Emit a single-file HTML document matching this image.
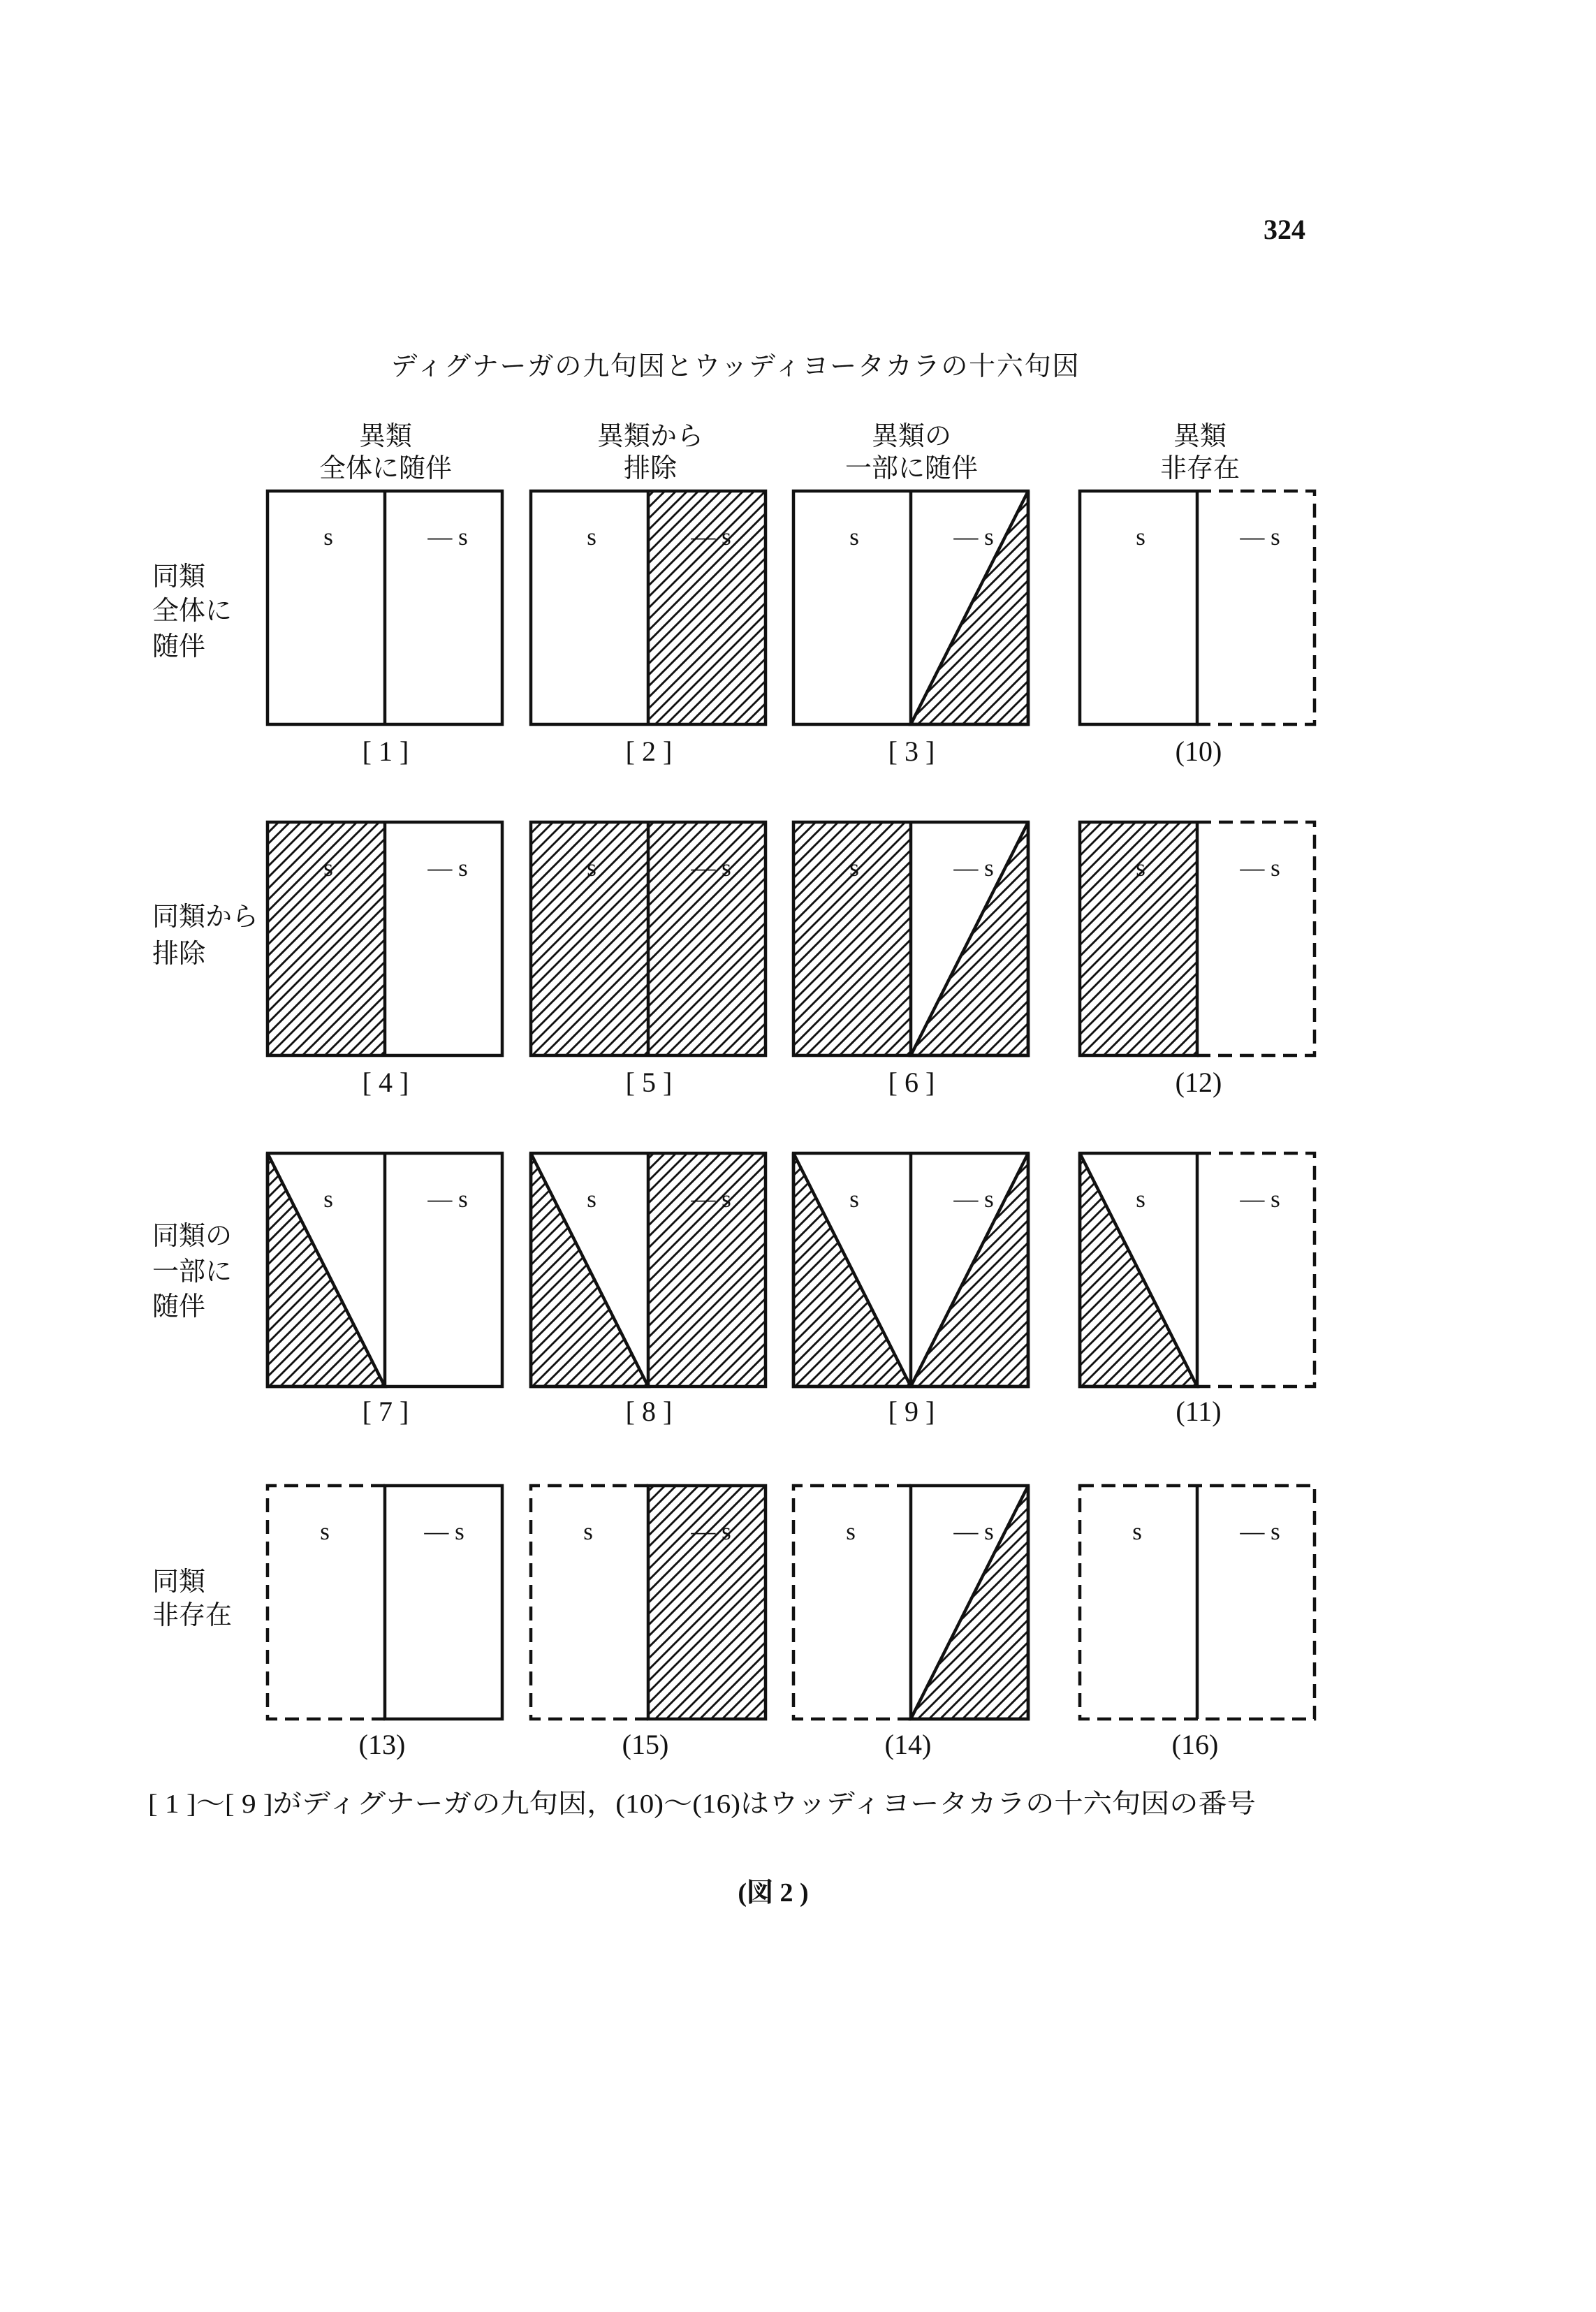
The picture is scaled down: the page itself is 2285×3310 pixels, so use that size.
<!DOCTYPE html>
<html><head><meta charset="utf-8"><style>
html,body{margin:0;padding:0;background:#fff;}
svg{display:block;}
text{font-family:"Liberation Serif","Noto Serif CJK SC",serif;fill:#111;}
</style></head><body>
<svg width="2285" height="3310" viewBox="0 0 2285 3310" xmlns="http://www.w3.org/2000/svg">
<defs>
<pattern id="h" patternUnits="userSpaceOnUse" width="16" height="16">
<path d="M-2,18 L18,-2 M-4,4 L4,-4 M12,20 L20,12" stroke="#111" stroke-width="2.9"/>
</pattern>
</defs>
<rect width="2285" height="3310" fill="#fff"/>
<text x="1839" y="342" font-size="40" font-weight="bold" text-anchor="middle">324</text>
<text x="1052" y="537" font-size="38" text-anchor="middle" textLength="985" lengthAdjust="spacing">ディグナーガの九句因とウッディヨータカラの十六句因</text>

<g font-size="38" text-anchor="middle">
<text x="552" y="637">異類</text><text x="552" y="683">全体に随伴</text>
<text x="931" y="637">異類から</text><text x="931" y="683">排除</text>
<text x="1305" y="637">異類の</text><text x="1305" y="683">一部に随伴</text>
<text x="1718" y="637">異類</text><text x="1718" y="683">非存在</text>
</g>
<g font-size="38">
<text x="218" y="838">同類</text><text x="218" y="887">全体に</text><text x="218" y="938">随伴</text>
<text x="218" y="1325">同類から</text><text x="218" y="1378">排除</text>
<text x="218" y="1782">同類の</text><text x="218" y="1833">一部に</text><text x="218" y="1883">随伴</text>
<text x="218" y="2277">同類</text><text x="218" y="2325">非存在</text>
</g>

<g fill="none" stroke="#111" stroke-width="4.5">
<g transform="translate(383,703)">
<rect x="0" y="0" width="336" height="334"/><line x1="168" y1="0" x2="168" y2="334"/>
</g>
<g transform="translate(760,703)">
<rect x="168" y="0" width="168" height="334" fill="url(#h)" stroke="none"/>
<rect x="0" y="0" width="336" height="334"/><line x1="168" y1="0" x2="168" y2="334"/>
</g>
<g transform="translate(1136,703)">
<polygon points="168,334 336,0 336,334" fill="url(#h)"/>
<rect x="0" y="0" width="336" height="334"/><line x1="168" y1="0" x2="168" y2="334"/>
</g>
<g transform="translate(1546,703)">
<path d="M168,0 H0 V334 H168 V0"/>
<path d="M168,0 H336 V334 H168" stroke-dasharray="20 11"/>
</g>
<g transform="translate(383,1177)">
<rect x="0" y="0" width="168" height="334" fill="url(#h)" stroke="none"/>
<rect x="0" y="0" width="336" height="334"/><line x1="168" y1="0" x2="168" y2="334"/>
</g>
<g transform="translate(760,1177)">
<rect x="0" y="0" width="336" height="334" fill="url(#h)" stroke="none"/>
<rect x="0" y="0" width="336" height="334"/><line x1="168" y1="0" x2="168" y2="334"/>
</g>
<g transform="translate(1136,1177)">
<rect x="0" y="0" width="168" height="334" fill="url(#h)" stroke="none"/>
<polygon points="168,334 336,0 336,334" fill="url(#h)"/>
<rect x="0" y="0" width="336" height="334"/><line x1="168" y1="0" x2="168" y2="334"/>
</g>
<g transform="translate(1546,1177)">
<rect x="0" y="0" width="168" height="334" fill="url(#h)" stroke="none"/>
<path d="M168,0 H0 V334 H168 V0"/>
<path d="M168,0 H336 V334 H168" stroke-dasharray="20 11"/>
</g>
<g transform="translate(383,1651)">
<polygon points="0,0 0,334 168,334" fill="url(#h)"/>
<rect x="0" y="0" width="336" height="334"/><line x1="168" y1="0" x2="168" y2="334"/>
</g>
<g transform="translate(760,1651)">
<polygon points="0,0 0,334 168,334" fill="url(#h)"/>
<rect x="168" y="0" width="168" height="334" fill="url(#h)" stroke="none"/>
<rect x="0" y="0" width="336" height="334"/><line x1="168" y1="0" x2="168" y2="334"/>
</g>
<g transform="translate(1136,1651)">
<polygon points="0,0 0,334 168,334" fill="url(#h)"/>
<polygon points="168,334 336,0 336,334" fill="url(#h)"/>
<rect x="0" y="0" width="336" height="334"/><line x1="168" y1="0" x2="168" y2="334"/>
</g>
<g transform="translate(1546,1651)">
<polygon points="0,0 0,334 168,334" fill="url(#h)"/>
<path d="M168,0 H0 V334 H168 V0"/>
<path d="M168,0 H336 V334 H168" stroke-dasharray="20 11"/>
</g>
<g transform="translate(383,2127)">
<path d="M168,0 H0 V334 H168" stroke-dasharray="20 11"/>
<rect x="168" y="0" width="168" height="334"/>
</g>
<g transform="translate(760,2127)">
<rect x="168" y="0" width="168" height="334" fill="url(#h)" stroke="none"/>
<path d="M168,0 H0 V334 H168" stroke-dasharray="20 11"/>
<rect x="168" y="0" width="168" height="334"/>
</g>
<g transform="translate(1136,2127)">
<polygon points="168,334 336,0 336,334" fill="url(#h)"/>
<path d="M168,0 H0 V334 H168" stroke-dasharray="20 11"/>
<rect x="168" y="0" width="168" height="334"/>
</g>
<g transform="translate(1546,2127)">
<rect x="0" y="0" width="336" height="334" stroke-dasharray="20 11"/>
<line x1="168" y1="0" x2="168" y2="334"/>
</g>
</g>

<g font-size="35" text-anchor="middle">
<text x="470" y="780">s</text><text x="641" y="780">— s</text>
<text x="847" y="780">s</text><text x="1018" y="780">— s</text>
<text x="1223" y="780">s</text><text x="1394" y="780">— s</text>
<text x="1633" y="780">s</text><text x="1804" y="780">— s</text>

<text x="470" y="1254">s</text><text x="641" y="1254">— s</text>
<text x="847" y="1254">s</text><text x="1018" y="1254">— s</text>
<text x="1223" y="1254">s</text><text x="1394" y="1254">— s</text>
<text x="1633" y="1254">s</text><text x="1804" y="1254">— s</text>

<text x="470" y="1728">s</text><text x="641" y="1728">— s</text>
<text x="847" y="1728">s</text><text x="1018" y="1728">— s</text>
<text x="1223" y="1728">s</text><text x="1394" y="1728">— s</text>
<text x="1633" y="1728">s</text><text x="1804" y="1728">— s</text>

<text x="465" y="2204">s</text><text x="636" y="2204">— s</text>
<text x="842" y="2204">s</text><text x="1018" y="2204">— s</text>
<text x="1218" y="2204">s</text><text x="1394" y="2204">— s</text>
<text x="1628" y="2204">s</text><text x="1804" y="2204">— s</text>
</g>

<g font-size="40" text-anchor="middle">
<text x="552" y="1089">[ 1 ]</text>
<text x="929" y="1089">[ 2 ]</text>
<text x="1305" y="1089">[ 3 ]</text>
<text x="1716" y="1089">(10)</text>
<text x="552" y="1563">[ 4 ]</text>
<text x="929" y="1563">[ 5 ]</text>
<text x="1305" y="1563">[ 6 ]</text>
<text x="1716" y="1563">(12)</text>
<text x="552" y="2034">[ 7 ]</text>
<text x="929" y="2034">[ 8 ]</text>
<text x="1305" y="2034">[ 9 ]</text>
<text x="1716" y="2034">(11)</text>
<text x="547" y="2511">(13)</text>
<text x="924" y="2511">(15)</text>
<text x="1300" y="2511">(14)</text>
<text x="1711" y="2511">(16)</text>
</g>

<text x="212" y="2595" font-size="38" textLength="1586" lengthAdjust="spacingAndGlyphs">[ 1 ]～[ 9 ]がディグナーガの九句因，(10)～(16)はウッディヨータカラの十六句因の番号</text>
<text x="1107" y="2722" font-size="38" font-weight="bold" text-anchor="middle">(図 2 )</text>
</svg>
</body></html>
